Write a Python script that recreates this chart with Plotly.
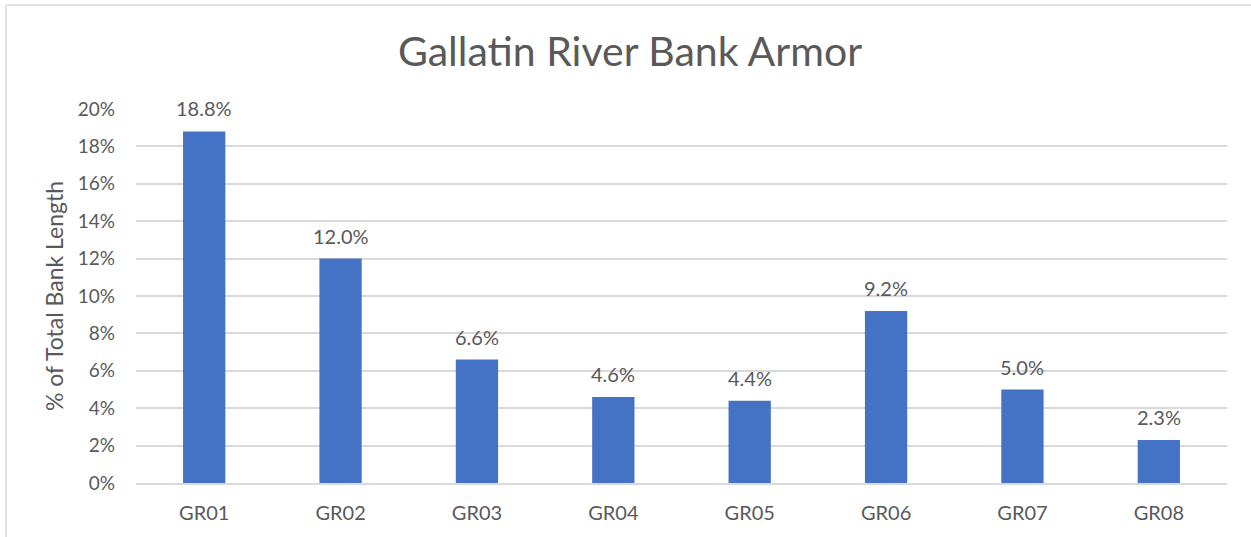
import plotly.graph_objects as go

categories = ["GR01", "GR02", "GR03", "GR04", "GR05", "GR06", "GR07", "GR08"]
values = [18.8, 12.0, 6.6, 4.6, 4.4, 9.2, 5.0, 2.3]
tick_vals = [0, 2, 4, 6, 8, 10, 12, 14, 16, 18, 20]
tick_text = [f"{v}%" for v in tick_vals]

FONT = "Lato"
TXT = "#595959"
GRID = "#d9d9d9"

W, H = 1251, 537
ml, mr, mt, mb = 136, 24, 109, 54
pw, ph = W - ml - mr, H - mt - mb

fig = go.Figure(go.Bar(
    x=categories, y=values, marker=dict(color="#4472C4", line=dict(width=0)),
    hoverinfo="x+y",
))

for c, v in zip(categories, values):
    fig.add_annotation(x=c, y=v, text=f"{v:.1f}%", showarrow=False,
                       yshift=23, font=dict(family=FONT, size=20, color=TXT))

# chart border
bx0 = (6 - ml) / pw
by1 = (H - mb - 5) / ph
fig.add_shape(type="line", xref="paper", yref="paper", x0=bx0, x1=1.2, y0=by1, y1=by1,
              line=dict(color=GRID, width=1.5))
fig.add_shape(type="line", xref="paper", yref="paper", x0=bx0, x1=bx0, y0=by1, y1=-0.3,
              line=dict(color=GRID, width=1.5))

fig.update_layout(
    width=W, height=H,
    margin=dict(l=ml, r=mr, t=mt, b=mb),
    paper_bgcolor="white", plot_bgcolor="white",
    bargap=0.69,
    showlegend=False,
    title=dict(text="Gallatin River Bank Armor", x=(630) / W, xanchor="center",
               y=1 - 52 / H, yanchor="middle",
               font=dict(family=FONT, size=41, color=TXT)),
    xaxis=dict(showgrid=False, showline=True, linecolor=GRID, linewidth=1.5,
               ticks="", tickfont=dict(family=FONT, size=20, color=TXT),
               ticklabelstandoff=11),
    yaxis=dict(range=[0, 20], tickvals=tick_vals, ticktext=tick_text,
               showgrid=True, gridcolor=GRID, gridwidth=1.5, zeroline=False,
               showline=False, ticks="", ticklabelstandoff=20,
               tickfont=dict(family=FONT, size=19, color=TXT),
               title=dict(text="% of Total Bank Length", standoff=7,
                          font=dict(family=FONT, size=23, color=TXT))),
)

fig.write_html("out.html")
